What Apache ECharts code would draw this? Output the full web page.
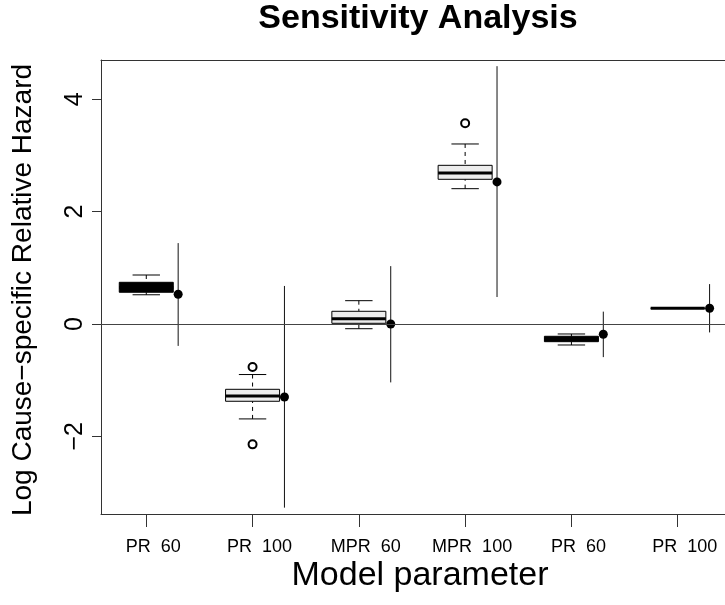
<!DOCTYPE html>
<html>
<head>
<meta charset="utf-8">
<script src="https://cdn.jsdelivr.net/npm/echarts@6/dist/echarts.min.js"></script>
<style>
  html, body { margin: 0; padding: 0; background: #fff; }
  #chart { width: 725px; height: 605px; }
</style>
</head>
<body>
<div id="chart"></div>
<script>
  // model parameters along the x axis
  const categories = ['PR  60', 'PR  100', 'MPR  60', 'MPR  100', 'PR  60', 'PR  100'];

  // boxplot summaries
  const whiskerLow  = [0.52, -1.69, -0.084, 2.409, -0.374, 0.28];
  const q1          = [0.565, -1.376, 0.012, 2.576, -0.315, 0.28];
  const median      = [0.65, -1.282, 0.094, 2.688, -0.27, 0.28];
  const q3          = [0.742, -1.163, 0.226, 2.825, -0.219, 0.28];
  const whiskerHigh = [0.872, -0.90, 0.415, 3.205, -0.178, 0.28];

  // outliers: [category number, value]
  const outliers = [[2, -0.765], [2, -2.143], [4, 3.573]];

  // point estimates with intervals
  const estimate = [0.53, -1.30, 0.0, 2.53, -0.183, 0.28];
  const ciLow    = [-0.39, -3.27, -1.04, 0.48, -0.59, -0.15];
  const ciHigh   = [1.44, 0.677, 1.03, 4.59, 0.22, 0.71];

  const yTicks = [-2, 0, 2, 4];
  const xTicks = [1, 2, 3, 4, 5, 6];
  const refLine = 0;

  const pointOffset = 0.3;
  const boxFills = ['#000000', '#ececec', '#ececec', '#ececec', '#000000', '#ececec'];

  const font = 'Liberation Sans';
  const frame = { show: true, onZero: false, lineStyle: { color: '#333', width: 1 } };

  let boxData = [];
  let estData = [];
  let ciData = [];
  for (let i = 0; i < categories.length; i++) {
    boxData.push([i + 1, whiskerLow[i], q1[i], median[i], q3[i], whiskerHigh[i]]);
    estData.push([i + 1 + pointOffset, estimate[i]]);
    ciData.push([i + 1 + pointOffset, ciLow[i], ciHigh[i]]);
  }

  const chart = echarts.init(document.getElementById('chart'));

  const option = {
    animation: false,
    backgroundColor: '#fff',
    grid: {
      left: 101,
      top: 60,
      right: 0,
      height: 454,
      show: false
    },
    xAxis: [
      {
        type: 'value',
        min: 0.574,
        max: 6.445,
        axisLine: frame,
        splitLine: { show: false },
        axisTick: {
          show: true,
          length: 13,
          customValues: xTicks,
          lineStyle: { color: '#333', width: 1 }
        },
        axisLabel: {
          customValues: xTicks,
          formatter: function (v) { return categories[Math.round(v) - 1]; },
          fontFamily: font,
          fontSize: 18,
          color: '#000',
          margin: 24,
          padding: [0, 0, 0, 14]
        }
      },
      {
        // top edge of the frame
        type: 'value',
        position: 'top',
        min: 0.574,
        max: 6.445,
        axisLine: frame,
        splitLine: { show: false },
        axisTick: { show: false },
        axisLabel: { show: false }
      }
    ],
    yAxis: {
      type: 'value',
      min: -3.383,
      max: 4.70,
      axisLine: frame,
      splitLine: { show: false },
      axisTick: {
        show: true,
        length: 9,
        customValues: yTicks,
        lineStyle: { color: '#333', width: 1 }
      },
      axisLabel: {
        customValues: yTicks,
        rotate: 90,
        formatter: function (v) { return String(v).replace('-', '\u2212'); },
        fontFamily: font,
        fontSize: 25,
        color: '#000',
        margin: 13
      }
    },
    graphic: [
      {
        type: 'text',
        x: 418,
        y: 19,
        style: {
          text: 'Sensitivity Analysis',
          font: 'bold 34px "Liberation Sans"',
          fill: '#000',
          textAlign: 'center',
          textVerticalAlign: 'middle'
        }
      },
      {
        type: 'text',
        x: 420,
        y: 576,
        style: {
          text: 'Model parameter',
          font: '34px "Liberation Sans"',
          fill: '#000',
          textAlign: 'center',
          textVerticalAlign: 'middle'
        }
      },
      {
        type: 'text',
        x: 23,
        y: 290,
        rotation: Math.PI / 2,
        style: {
          text: 'Log Cause\u2212specific Relative Hazard',
          font: '28px "Liberation Sans"',
          fill: '#000',
          textAlign: 'center',
          textVerticalAlign: 'middle'
        }
      }
    ],
    series: [
      {
        // boxes
        type: 'custom',
        data: boxData,
        z: 3,
        renderItem: function (params, api) {
          const x = api.value(0);
          const lo = api.coord([x, api.value(1)]);
          const b1 = api.coord([x, api.value(2)]);
          const md = api.coord([x, api.value(3)]);
          const b3 = api.coord([x, api.value(4)]);
          const hi = api.coord([x, api.value(5)]);
          const half = 27;
          const cap = 13.7;
          const cx = lo[0];
          const line = { stroke: '#000', lineWidth: 1 };
          return {
            type: 'group',
            children: [
              { type: 'line', shape: { x1: cx, y1: lo[1], x2: cx, y2: b1[1] }, style: { stroke: '#000', lineWidth: 1, lineDash: [4, 4] } },
              { type: 'line', shape: { x1: cx, y1: hi[1], x2: cx, y2: b3[1] }, style: { stroke: '#000', lineWidth: 1, lineDash: [4, 4] } },
              { type: 'line', shape: { x1: cx - cap, y1: lo[1], x2: cx + cap, y2: lo[1] }, style: line },
              { type: 'line', shape: { x1: cx - cap, y1: hi[1], x2: cx + cap, y2: hi[1] }, style: line },
              { type: 'rect', shape: { x: cx - half, y: b3[1], width: 2 * half, height: b1[1] - b3[1] },
                style: { fill: boxFills[params.dataIndex], stroke: '#000', lineWidth: 1 } },
              { type: 'line', shape: { x1: cx - half, y1: md[1], x2: cx + half, y2: md[1] }, style: { stroke: '#000', lineWidth: 3 } }
            ]
          };
        }
      },
      {
        // interval lines
        type: 'custom',
        data: ciData,
        z: 2,
        renderItem: function (params, api) {
          const a = api.coord([api.value(0), api.value(1)]);
          const b = api.coord([api.value(0), api.value(2)]);
          return {
            type: 'line',
            shape: { x1: a[0], y1: a[1], x2: b[0], y2: b[1] },
            style: { stroke: '#111', lineWidth: 1 }
          };
        }
      },
      {
        type: 'scatter',
        data: estData,
        symbol: 'circle',
        symbolSize: 9,
        z: 4,
        itemStyle: { color: '#000', opacity: 1 },
        markLine: {
          silent: true,
          symbol: 'none',
          label: { show: false },
          lineStyle: { color: '#444', width: 1, type: 'solid' },
          data: [{ yAxis: refLine }]
        }
      },
      {
        type: 'scatter',
        data: outliers,
        symbol: 'emptyCircle',
        symbolSize: 8,
        z: 4,
        itemStyle: { color: '#000', borderColor: '#000', borderWidth: 1, opacity: 1 }
      }
    ]
  };

  chart.setOption(option);
  window.addEventListener('resize', function () {
    chart.resize();
  });
</script>
</body>
</html>
